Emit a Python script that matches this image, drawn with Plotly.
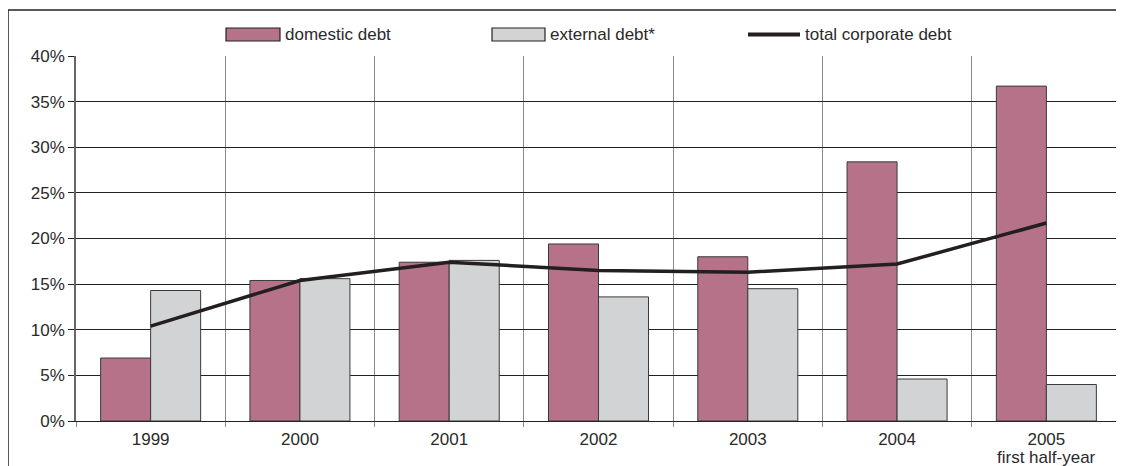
import plotly.graph_objects as go

categories = ["1999", "2000", "2001", "2002", "2003", "2004", "2005"]
last_sublabel = "first half-year"
domestic = [6.9, 15.4, 17.4, 19.4, 18.0, 28.4, 36.7]
external = [14.3, 15.6, 17.6, 13.6, 14.5, 4.6, 4.0]
total = [10.4, 15.4, 17.4, 16.5, 16.3, 17.2, 21.7]
series_names = ["domestic debt", "external debt*", "total corporate debt"]
colors = ["#b67288", "#d2d3d5", "#231f20"]

W, H = 1116, 458
L, R, T, B = 68, 3, 48, 45
PW, PH = W - L - R, H - T - B


def px(x):
    return (x - L) / PW


def py(y):
    return (H - B - y) / PH


fig = go.Figure()
fig.add_trace(go.Bar(x=categories, y=domestic, name=series_names[0],
                     marker=dict(color=colors[0], line=dict(color="#3a3a3a", width=1))))
fig.add_trace(go.Bar(x=categories, y=external, name=series_names[1],
                     marker=dict(color=colors[1], line=dict(color="#3a3a3a", width=1))))
fig.add_trace(go.Scatter(x=categories, y=total, name=series_names[2], mode="lines",
                         line=dict(color=colors[2], width=3.5)))

fig.update_layout(
    width=W, height=H,
    margin=dict(l=L, r=R, t=T, b=B),
    paper_bgcolor="white", plot_bgcolor="white",
    font=dict(family="Liberation Sans, Arial, sans-serif", size=17, color="#2a2a2a"),
    barmode="group", bargap=0.33, bargroupgap=0,
    showlegend=False,
    xaxis=dict(type="category", tickson="boundaries", showgrid=True, gridcolor="#8a8a8a",
               gridwidth=1.3, ticks="outside", ticklen=5, tickcolor="#8a8a8a",
               showline=True, linecolor="#222", linewidth=1.2, mirror=False,
               automargin=False, tickfont=dict(size=17), ticklabelstandoff=2,
               range=[-0.5, 6.5]),
    yaxis=dict(range=[0, 40], dtick=5, ticksuffix="%", showgrid=True, gridcolor="#222",
               gridwidth=1.2, ticks="outside", ticklen=6, tickcolor="#222",
               showline=True, linecolor="#666", linewidth=1.5, zeroline=False,
               automargin=False, tickfont=dict(size=17)),
)

# second line under the last category label (centre of the last category)
n_cat = len(categories)
fig.add_annotation(xref="paper", yref="paper", x=(n_cat - 0.5) / n_cat, y=py(449),
                   xanchor="center", yanchor="middle", text=last_sublabel, showarrow=False,
                   font=dict(size=17, color="#2a2a2a"), borderpad=0)

# custom legend (pixel positions in figure coordinates)
leg_y0, leg_y1 = 20, 33
leg_items = [(218, 272), (484, 537), (740, 792)]
for i, (x0, x1) in enumerate(leg_items):
    if i < 2:
        fig.add_shape(type="rect", xref="paper", yref="paper",
                      x0=px(x0), x1=px(x1), y0=py(leg_y1), y1=py(leg_y0),
                      fillcolor=colors[i], line=dict(color="#222", width=1.2))
    else:
        fig.add_shape(type="line", xref="paper", yref="paper",
                      x0=px(x0), x1=px(x1), y0=py((leg_y0 + leg_y1) / 2), y1=py((leg_y0 + leg_y1) / 2),
                      line=dict(color=colors[i], width=4))
    fig.add_annotation(xref="paper", yref="paper", x=px(x1 + 3), y=py((leg_y0 + leg_y1) / 2),
                       xanchor="left", yanchor="middle", text=series_names[i], showarrow=False,
                       font=dict(size=17, color="#2a2a2a"))

# outer frame and right plot border
fig.add_shape(type="line", xref="paper", yref="paper", x0=px(0), x1=1.1, y0=py(2), y1=py(2),
              line=dict(color="#222", width=1.5))
fig.add_shape(type="line", xref="paper", yref="paper", x0=px(0), x1=px(0), y0=py(2), y1=-0.5,
              line=dict(color="#222", width=1.5))
fig.add_shape(type="line", xref="paper", yref="paper", x0=1.0, x1=1.0, y0=0, y1=1,
              line=dict(color="#8a8a8a", width=1.3))
fig.write_html("out.html")
